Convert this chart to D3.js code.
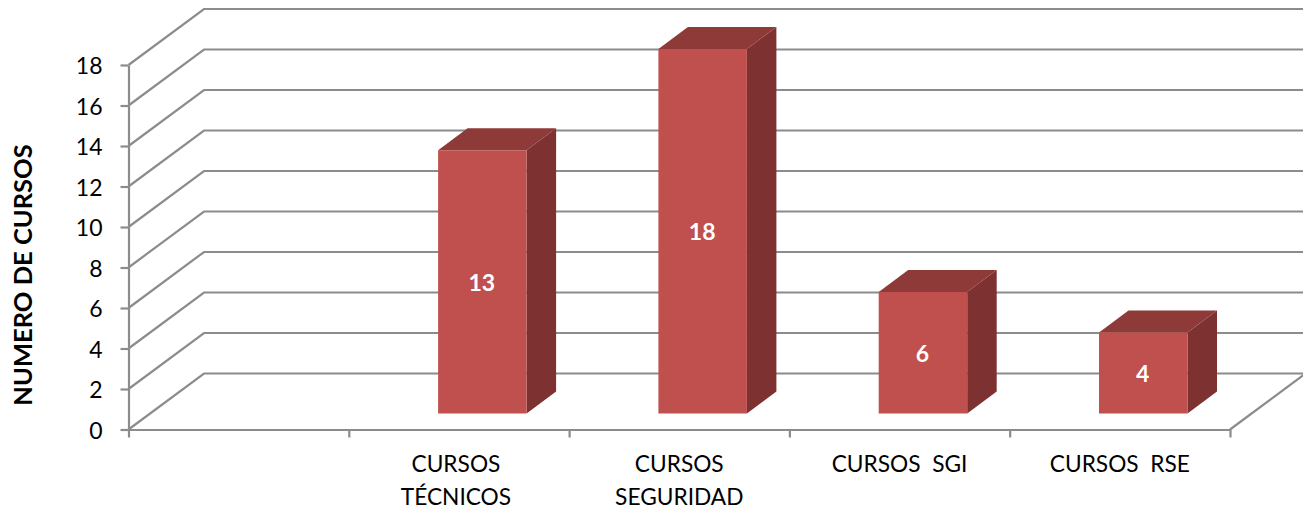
<!DOCTYPE html>
<html><head><meta charset="utf-8">
<script src="https://cdn.jsdelivr.net/npm/d3@7/dist/d3.min.js"></script>
<style>html,body{margin:0;padding:0;background:#fff;overflow:hidden}svg{display:block}text{font-family:Lato,"Open Sans",sans-serif;white-space:pre}</style>
</head><body><svg id="c" width="1303" height="516"></svg>
<script>
const categories = ["", "CURSOS TÉCNICOS", "CURSOS SEGURIDAD", "CURSOS  SGI", "CURSOS  RSE"];
const categoryLines = [[""], ["CURSOS", "TÉCNICOS"], ["CURSOS", "SEGURIDAD"], ["CURSOS  SGI"], ["CURSOS  RSE"]];
const values = [null, 13, 18, 6, 4];
const yTicks = [0, 2, 4, 6, 8, 10, 12, 14, 16, 18];
const yTitle = "NUMERO DE CURSOS";

const W = 1303, H = 516;
const left = 128.5, right = 1230, y0 = 429.5, y18 = 65;
const wallDx = 75.5, wallDy = -56;
const barDx = 29.5, barDy = -22, barW = 88.5;
const gridColor = "#8c8c8c", axisColor = "#8c8c8c";

const svg = d3.select("#c");
const y = d3.scaleLinear().domain([0, 18]).range([y0, y18]);
const x = d3.scaleBand().domain(categories).range([left, right]);
const edge = d3.scaleLinear().domain([0, categories.length]).range([left, right]);
const line = d3.line();

// floor edge and wall gridlines
const grid = svg.append("g").attr("fill", "none").attr("stroke", gridColor).attr("stroke-width", 2.2);
grid.selectAll("path").data(yTicks).join("path")
  .attr("d", v => line([[left, y(v)], [left + wallDx, y(v) + wallDy], [W, y(v) + wallDy]]));
grid.append("path")
  .attr("d", line([[right, y0], [right + wallDx, y0 + wallDy]]));

// axes
const axY = svg.append("g").attr("transform", `translate(${left},0)`)
  .call(d3.axisLeft(y).tickValues(yTicks).tickSize(8).tickPadding(18).tickSizeOuter(0));
axY.selectAll("path,line").attr("stroke", axisColor).attr("stroke-width", 2.2);
axY.selectAll("text").attr("font-size", 23).attr("fill", "#000").attr("dy", ".38em").style("font-family", "Lato");

const axX = svg.append("g").attr("transform", `translate(0,${y0})`)
  .call(d3.axisBottom(edge).tickValues(d3.range(categories.length + 1)).tickSize(8).tickSizeOuter(0).tickFormat(""));
axX.selectAll("path,line").attr("stroke", axisColor).attr("stroke-width", 2.2);

// category labels
const cat = svg.append("g").attr("text-anchor", "middle").attr("font-size", 22.7).attr("fill", "#000");
categories.forEach((c, i) => {
  const cx = x(c) + x.bandwidth() / 2;
  categoryLines[i].forEach((t, j) => {
    cat.append("text").attr("x", cx - (i === 1 ? 3 : 0)).attr("y", 472 + j * 33).text(t);
  });
});

// 3D bars
const base = y0 + (wallDy - barDy) / 2 + 1;
const barH = v => y0 - y(v);
const bars = svg.append("g").selectAll("g").data(categories.map((c, i) => ({c, v: values[i]})).filter(d => d.v != null)).join("g");
const bx = d => x(d.c) + x.bandwidth() / 2 + (wallDx - barDx) / 2 - barW / 2 + 0.4;
bars.append("path").attr("fill", "#7d3130").attr("d", d => {
  const a = bx(d) + barW, t = base - barH(d.v);
  return line([[a, t], [a + barDx, t + barDy], [a + barDx, base + barDy], [a, base]]) + "Z";
});
bars.append("path").attr("fill", "#8e3a38").attr("d", d => {
  const a = bx(d), t = base - barH(d.v);
  return line([[a, t], [a + barDx, t + barDy], [a + barW + barDx, t + barDy], [a + barW, t]]) + "Z";
});
bars.append("rect").attr("fill", "#c0504d")
  .attr("x", bx).attr("width", barW)
  .attr("y", d => base - barH(d.v)).attr("height", d => barH(d.v));
bars.append("text").attr("fill", "#fff").attr("font-weight", "bold").attr("font-size", 23)
  .attr("text-anchor", "middle").attr("dominant-baseline", "central")
  .attr("x", d => bx(d) + barW / 2 - 0.5).attr("y", d => base - barH(d.v) / 2)
  .text(d => d.v);

// axis title
svg.append("text").attr("transform", "translate(32,275) rotate(-90)")
  .attr("text-anchor", "middle").attr("font-weight", "bold").attr("font-size", 25.5).attr("fill", "#000").text(yTitle);
</script></body></html>
